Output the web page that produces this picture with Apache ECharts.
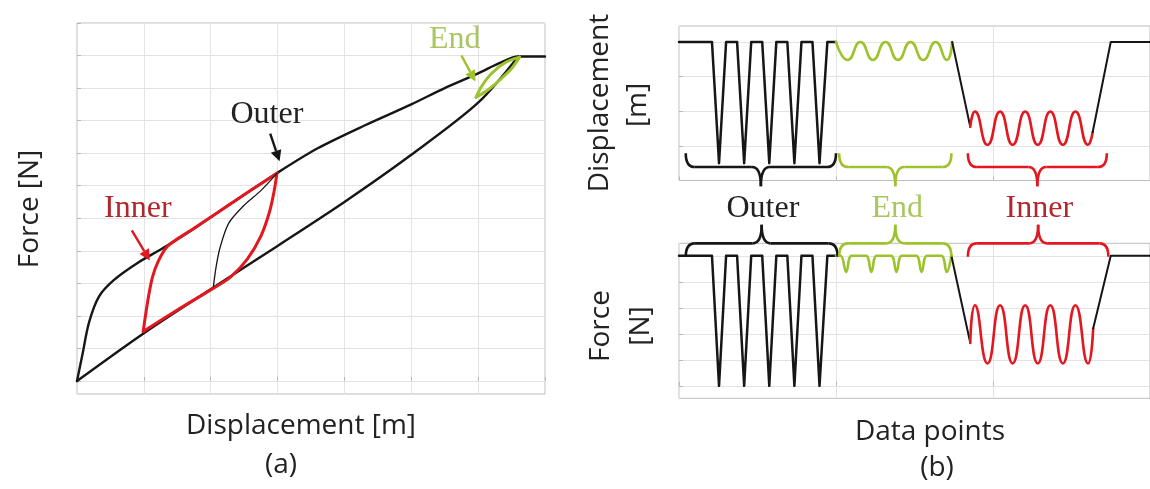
<!DOCTYPE html>
<html>
<head>
<meta charset="utf-8">
<script src="https://cdn.jsdelivr.net/npm/echarts@6/dist/echarts.min.js"></script>
<style>
  html, body { margin: 0; padding: 0; background: #ffffff; }
  #chart { width: 1150px; height: 489px; }
</style>
</head>
<body>
<div id="chart"></div>
<script>
// ---------- Panel (a): force vs displacement (x: displacement, y: force; grid units) ----------
const forceGridA = [0, 1, 2, 3, 4, 5, 6, 7, 8, 9, 10, 11];
const outerLoading = [[0, 0], [0.08, 0.8], [0.18, 1.8], [0.33, 2.6], [0.55, 3.1], [0.9, 3.62], [1.3, 4.1],
  [1.8, 4.75], [2.3, 5.45], [3.0, 6.4], [3.6, 7.15], [4.3, 7.85], [5.0, 8.5], [5.5, 9.0], [6.0, 9.45],
  [6.3, 9.75], [6.6, 9.97], [7.0, 9.97]];
const outerUnloading = [[0, 0], [1, 1.47], [2, 2.82], [3, 4.15], [4, 5.5], [5, 6.95], [6, 8.55], [6.6, 9.97]];
const innerFirstLoading = [[2.04, 2.9], [2.08, 3.5], [2.14, 4.1], [2.27, 4.85], [2.5, 5.4], [2.75, 5.85], [2.99, 6.38]];
const innerLoopUpper = [[0.99, 1.52], [1.02, 1.95], [1.07, 2.6], [1.13, 3.2], [1.22, 3.7], [1.36, 4.15],
  [1.75, 4.69], [2.2, 5.31], [2.6, 5.86], [2.99, 6.38]];
const innerLoopLower = [[0.99, 1.52], [1.5, 2.18], [2.0, 2.8], [2.3, 3.2], [2.55, 3.75], [2.75, 4.45],
  [2.88, 5.2], [2.95, 5.85], [2.99, 6.38]];
const endLoopUpper = [[5.97, 8.72], [6.05, 9.05], [6.2, 9.45], [6.4, 9.78], [6.62, 9.95]];
const endLoopLower = [[5.97, 8.72], [6.15, 8.95], [6.35, 9.3], [6.5, 9.6], [6.62, 9.95]];

// callouts: label text, label centre, arrow start, arrow tip
const calloutText = ['Outer', 'Inner', 'End'];
const calloutLabelAt = [[2.84, 8.2], [0.91, 5.3], [5.65, 10.5]];
const calloutArrowFrom = [[2.89, 7.6], [0.82, 4.63], [5.75, 10.0]];
const calloutArrowTo = [[3.03, 6.75], [1.09, 3.7], [5.96, 9.2]];

// ---------- Panel (b): histories over data points ----------
const dispGridB = [1, 2, 3, 4];
const forceGridB = [0, 1, 2, 3, 4, 5];

const dispOuter = [[0, 4], [21, 4], [25.5, 0.5], [30, 4], [37, 4], [41.5, 0.5], [46, 4], [53, 4], [57.5, 0.5],
  [62, 4], [69, 4], [73.5, 0.5], [78, 4], [85, 4], [89.5, 0.5], [94.5, 4], [100, 4]];
const dispEnd = [[100, 4], [107.5, 3.48], [115.5, 4], [123.5, 3.48], [131.5, 4], [139.5, 3.48], [147.5, 4],
  [155.5, 3.48], [163.5, 4], [170.5, 3.48], [174, 4]];
const dispDrop = [[174, 4], [185.5, 1.55]];
const dispInner = [[185.5, 1.55], [188.5, 1.99], [196.5, 1.03], [204.5, 1.99], [212.5, 1.03], [220.5, 1.99],
  [228.5, 1.03], [236.5, 1.99], [244.5, 1.03], [252.5, 1.99], [260.5, 1.03], [263.5, 1.4]];
const dispRise = [[263.5, 1.4], [275, 4], [300, 4]];

const forceOuter = [[0, 5], [21, 5], [25.5, 0], [30, 5], [37, 5], [41.5, 0], [46, 5], [53, 5], [57.5, 0],
  [62, 5], [69, 5], [73.5, 0], [78, 5], [85, 5], [89.5, 0], [94.5, 5], [100, 5]];
const forceEnd = [[100, 5], [103, 5], [106.5, 4.38], [110, 5], [119, 5], [122.5, 4.38], [126, 5], [135, 5],
  [138.5, 4.38], [142, 5], [151, 5], [154.5, 4.38], [158, 5], [167, 5], [170.5, 4.38], [173.5, 5]];
const forceDrop = [[173.5, 5], [185.5, 1.65]];
const forceInner = [[185.5, 1.65], [188.5, 3.1], [196.5, 0.86], [204.5, 3.1], [212.5, 0.86], [220.5, 3.1],
  [228.5, 0.86], [236.5, 3.1], [244.5, 0.86], [252.5, 3.1], [260.5, 0.86], [263.8, 2.2]];
const forceRise = [[263.8, 2.2], [275, 5], [300, 5]];

// braces: [start, end, anchor level] in each panel's data units
const braceText = ['Outer', 'End', 'Inner'];
const dispBraces = [[4.3, 100, 0.79], [102, 173.5, 0.79], [184, 272.5, 0.79]];
const forceBraces = [[4.3, 101, 4.96], [102, 173.5, 4.96], [184, 273.5, 4.96]];

// ---------- styling ----------
const BLACK = '#161616';
const RED = '#e2171f';
const GREEN = '#9cc22c';
const RED_TEXT = '#b3262c';
const GREEN_TEXT = '#a9c661';
const groupColors = [BLACK, GREEN, RED];
const groupTextColors = ['#222222', GREEN_TEXT, RED_TEXT];
const calloutColors = [BLACK, RED, GREEN];
const calloutTextColors = ['#222222', RED_TEXT, GREEN_TEXT];
const SPLIT = { show: true, lineStyle: { color: '#e3e3e3', width: 1 } };
const TICK = { show: true, inside: true, length: 4, lineStyle: { color: '#b8b8b8' } };
const SERIF = '32px "Liberation Serif", "DejaVu Serif", serif';
const SANS = '28px "Open Sans", "DejaVu Sans", sans-serif';

function xAxisDef(gridIndex, max, interval) {
  return {
    type: 'value', gridIndex, min: 0, max, interval,
    axisLine: { show: false }, axisTick: TICK, axisLabel: { show: false }, splitLine: SPLIT
  };
}
function yAxisDef(gridIndex, min, max, ticks) {
  return {
    type: 'value', gridIndex, min, max,
    axisLine: { show: false },
    axisTick: Object.assign({ customValues: ticks }, TICK),
    axisLabel: { show: false, customValues: ticks },
    splitLine: SPLIT
  };
}
function lineSeries(idx, data, color, width, smooth) {
  return {
    type: 'line', xAxisIndex: idx, yAxisIndex: idx, data, showSymbol: false, symbol: 'none',
    smooth: smooth || false,
    lineStyle: { color, width, cap: 'round', join: 'round' }, silent: true, z: 3
  };
}

function renderCallout(params, api) {
  const i = params.dataIndex;
  const t = api.coord([api.value(0), api.value(1)]);
  const a = api.coord([api.value(2), api.value(3)]);
  const b = api.coord([api.value(4), api.value(5)]);
  const c = calloutColors[i];
  const ang = Math.atan2(b[1] - a[1], b[0] - a[0]);
  const L = 11, W = 5.5;
  const base = [b[0] - L * Math.cos(ang), b[1] - L * Math.sin(ang)];
  const p1 = [base[0] + W * Math.sin(ang), base[1] - W * Math.cos(ang)];
  const p2 = [base[0] - W * Math.sin(ang), base[1] + W * Math.cos(ang)];
  return {
    type: 'group', children: [
      { type: 'text', x: t[0], y: t[1],
        style: { text: calloutText[i], fill: calloutTextColors[i], font: SERIF, align: 'center', verticalAlign: 'middle' } },
      { type: 'line', shape: { x1: a[0], y1: a[1], x2: base[0], y2: base[1] }, style: { stroke: c, lineWidth: 2.4 } },
      { type: 'polygon', shape: { points: [b, p1, p2] }, style: { fill: c } }
    ]
  };
}

function braceRenderer(dir, depth, withText) {
  return function (params, api) {
    const i = params.dataIndex;
    const p0 = api.coord([api.value(0), api.value(2)]);
    const p1 = api.coord([api.value(1), api.value(2)]);
    const c = groupColors[i];
    const x0 = p0[0], x1 = p1[0], xm = (x0 + x1) / 2;
    const y0 = p0[1], yH = y0 + dir * depth * 0.42, yT = y0 + dir * depth;
    const r = 9;
    const st = { stroke: c, lineWidth: 2.6, fill: null };
    const kids = [
      { type: 'bezierCurve', shape: { x1: x0, y1: y0, cpx1: x0, cpy1: yH, x2: x0 + r, y2: yH }, style: st },
      { type: 'line', shape: { x1: x0 + r, y1: yH, x2: xm - r, y2: yH }, style: st },
      { type: 'bezierCurve', shape: { x1: xm - r, y1: yH, cpx1: xm, cpy1: yH, x2: xm, y2: yT }, style: st },
      { type: 'bezierCurve', shape: { x1: xm, y1: yT, cpx1: xm, cpy1: yH, x2: xm + r, y2: yH }, style: st },
      { type: 'line', shape: { x1: xm + r, y1: yH, x2: x1 - r, y2: yH }, style: st },
      { type: 'bezierCurve', shape: { x1: x1 - r, y1: yH, cpx1: x1, cpy1: yH, x2: x1, y2: y0 }, style: st }
    ];
    if (withText) {
      kids.push({ type: 'text', x: xm + 2, y: yT + 22,
        style: { text: braceText[i], fill: groupTextColors[i], font: SERIF, align: 'center', verticalAlign: 'middle' } });
    }
    return { type: 'group', children: kids };
  };
}

const chart = echarts.init(document.getElementById('chart'), null, { renderer: 'canvas' });
const frame = { show: true, borderColor: '#bdbdbd', borderWidth: 1, backgroundColor: 'transparent', containLabel: false };

chart.setOption({
  animation: false,
  backgroundColor: '#ffffff',
  grid: [
    Object.assign({ left: 77, top: 23, width: 468, height: 371 }, frame),
    Object.assign({ left: 679, top: 26, width: 471, height: 154.5 }, frame),
    Object.assign({ left: 679, top: 243.3, width: 471, height: 155 }, frame)
  ],
  xAxis: [xAxisDef(0, 7, 1), xAxisDef(1, 300, 100), xAxisDef(2, 300, 100)],
  yAxis: [yAxisDef(0, -0.4, 11, forceGridA), yAxisDef(1, 0, 4.46, dispGridB), yAxisDef(2, -0.48, 5.48, forceGridB)],
  graphic: [
    { type: 'text', x: 30, y: 209, rotation: Math.PI / 2,
      style: { text: 'Force [N]', font: SANS, fill: '#222', align: 'center', verticalAlign: 'middle' } },
    { type: 'text', x: 301, y: 426,
      style: { text: 'Displacement [m]', font: SANS, fill: '#222', align: 'center', verticalAlign: 'middle' } },
    { type: 'text', x: 281, y: 465,
      style: { text: '(a)', font: SANS, fill: '#222', align: 'center', verticalAlign: 'middle' } },
    { type: 'text', x: 600, y: 103, rotation: Math.PI / 2,
      style: { text: 'Displacement', font: SANS, fill: '#222', align: 'center', verticalAlign: 'middle' } },
    { type: 'text', x: 638, y: 105, rotation: Math.PI / 2,
      style: { text: '[m]', font: SANS, fill: '#222', align: 'center', verticalAlign: 'middle' } },
    { type: 'text', x: 601, y: 326, rotation: Math.PI / 2,
      style: { text: 'Force', font: SANS, fill: '#222', align: 'center', verticalAlign: 'middle' } },
    { type: 'text', x: 641, y: 326, rotation: Math.PI / 2,
      style: { text: '[N]', font: SANS, fill: '#222', align: 'center', verticalAlign: 'middle' } },
    { type: 'text', x: 930, y: 432,
      style: { text: 'Data points', font: SANS, fill: '#222', align: 'center', verticalAlign: 'middle' } },
    { type: 'text', x: 937, y: 468,
      style: { text: '(b)', font: SANS, fill: '#222', align: 'center', verticalAlign: 'middle' } }
  ],
  series: [
    // panel (a)
    lineSeries(0, outerLoading, BLACK, 2.4, 0.3),
    lineSeries(0, outerUnloading, BLACK, 2.4, 0.3),
    lineSeries(0, innerLoopUpper, RED, 3, 0.3),
    lineSeries(0, innerLoopLower, RED, 3, 0.3),
    lineSeries(0, innerFirstLoading, BLACK, 1.3, 0.3),
    lineSeries(0, endLoopUpper, GREEN, 3, 0.3),
    lineSeries(0, endLoopLower, GREEN, 3, 0.3),
    {
      type: 'custom', xAxisIndex: 0, yAxisIndex: 0, clip: false, silent: true, z: 5,
      renderItem: renderCallout,
      encode: { x: [0, 2, 4], y: [1, 3, 5] },
      data: calloutText.map((_, i) => calloutLabelAt[i].concat(calloutArrowFrom[i], calloutArrowTo[i]))
    },
    // panel (b) displacement
    lineSeries(1, dispOuter, BLACK, 2.5, false),
    lineSeries(1, dispEnd, GREEN, 2.6, 0.55),
    lineSeries(1, dispDrop, BLACK, 2, false),
    lineSeries(1, dispInner, RED, 2.6, 0.55),
    lineSeries(1, dispRise, BLACK, 2, false),
    // panel (b) force
    lineSeries(2, forceOuter, BLACK, 2.5, false),
    lineSeries(2, forceEnd, GREEN, 2.6, 0.4),
    lineSeries(2, forceDrop, BLACK, 2, false),
    lineSeries(2, forceInner, RED, 2.6, 0.55),
    lineSeries(2, forceRise, BLACK, 2, false),
    // braces
    {
      type: 'custom', xAxisIndex: 1, yAxisIndex: 1, clip: false, silent: true, z: 6,
      renderItem: braceRenderer(1, 33, true), encode: { x: [0, 1], y: 2 }, data: dispBraces
    },
    {
      type: 'custom', xAxisIndex: 2, yAxisIndex: 2, clip: false, silent: true, z: 6,
      renderItem: braceRenderer(-1, 32, false), encode: { x: [0, 1], y: 2 }, data: forceBraces
    }
  ]
});
</script>
</body>
</html>
